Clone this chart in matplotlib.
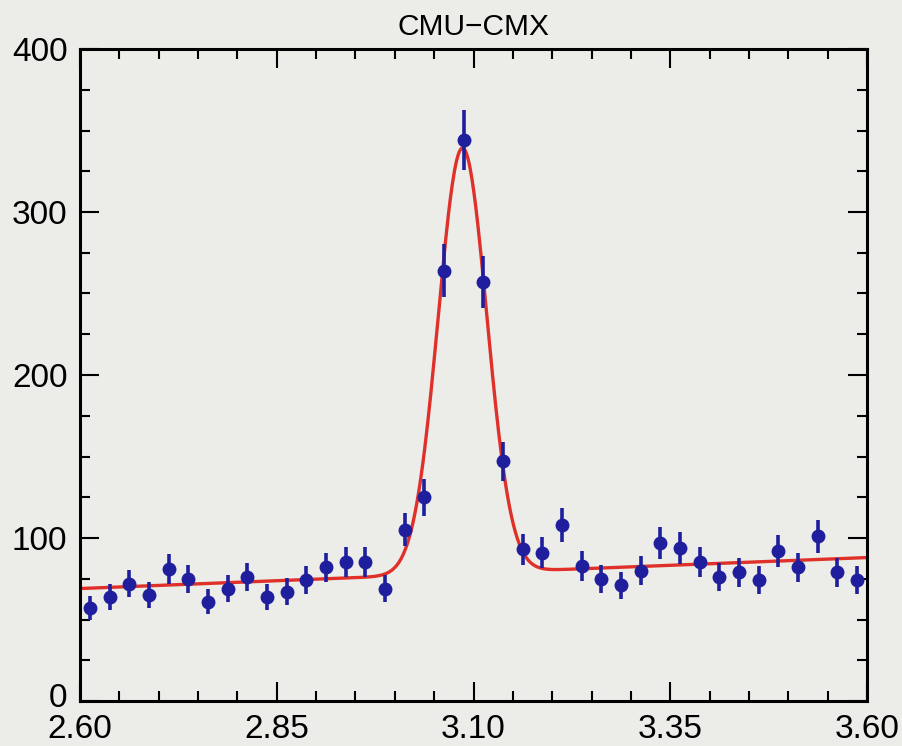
import numpy as np
import matplotlib
matplotlib.use("Agg")
import matplotlib.pyplot as plt
import matplotlib.transforms as mtransforms
from matplotlib.ticker import MultipleLocator, FixedLocator

# ------------------------------
# Data
# ------------------------------
bin_centers = [2.6125, 2.6375, 2.6625, 2.6875, 2.7125, 2.7375, 2.7625, 2.7875,
               2.8125, 2.8375, 2.8625, 2.8875, 2.9125, 2.9375, 2.9625, 2.9875,
               3.0125, 3.0375, 3.0625, 3.0875, 3.1125, 3.1375, 3.1625, 3.1875,
               3.2125, 3.2375, 3.2625, 3.2875, 3.3125, 3.3375, 3.3625, 3.3875,
               3.4125, 3.4375, 3.4625, 3.4875, 3.5125, 3.5375, 3.5625, 3.5875]
counts = [57, 64, 72, 65, 81, 75, 61, 69, 76, 64,
          67, 74, 82, 85, 85, 69, 105, 125, 264, 344,
          257, 147, 93, 91, 108, 83, 75, 71, 80, 97,
          94, 85, 76, 79, 74, 92, 82, 101, 79, 74]
errors = [7.5, 8.0, 8.5, 8.1, 9.0, 8.7, 7.8, 8.3, 8.7, 8.0,
          8.2, 8.6, 9.1, 9.2, 9.2, 8.3, 10.2, 11.2, 16.2, 18.5,
          16.0, 12.1, 9.6, 9.5, 10.4, 9.1, 8.7, 8.4, 8.9, 9.8,
          9.7, 9.2, 8.7, 8.9, 8.6, 9.6, 9.1, 10.0, 8.9, 8.6]

# fit: gaussian peak on a linear background
fit_amp = 261.0
fit_mean = 3.086
fit_sigma = 0.0308
bg_const = 69.0
bg_slope = 19.0

x_ticks = [2.60, 2.85, 3.10, 3.35, 3.60]
x_labels = ["2.60", "2.85", "3.10", "3.35", "3.60"]
y_ticks = [0, 100, 200, 300, 400]

BG = "#ecede9"
BLUE = "#1f1f9e"
RED = "#e0302a"

plt.rcParams["font.family"] = ["Liberation Sans", "DejaVu Sans"]

fig = plt.figure(figsize=(9.03, 7.46), dpi=100, facecolor=BG)
ax = fig.add_axes([80 / 903, 45 / 746, 787 / 903, 652 / 746], facecolor=BG)

xf = np.linspace(2.60, 3.60, 800)
yf = bg_const + bg_slope * (xf - 2.60) + fit_amp * np.exp(-0.5 * ((xf - fit_mean) / fit_sigma) ** 2)
ax.plot(xf, yf, color=RED, lw=2.4, zorder=2)

ax.errorbar(bin_centers, counts, yerr=errors, fmt="o", color=BLUE, ms=9,
            elinewidth=2.6, capsize=0, zorder=3)

ax.set_xlim(2.60, 3.60)
ax.set_ylim(0, 400)
ax.xaxis.set_major_locator(FixedLocator(x_ticks))
ax.set_xticklabels(x_labels)
ax.xaxis.set_minor_locator(MultipleLocator(0.05))
ax.yaxis.set_major_locator(FixedLocator(y_ticks))
ax.yaxis.set_minor_locator(MultipleLocator(25))

ax.tick_params(which="both", direction="in", top=True, right=True, width=1.5, colors="black")
ax.tick_params(which="major", length=14, labelsize=24)
ax.tick_params(which="minor", length=7)
ax.tick_params(axis="x", which="major", pad=9)
ax.tick_params(axis="y", which="major", pad=9)
for s in ax.spines.values():
    s.set_linewidth(2.2)

ax.set_title("CMU\u2212CMX", fontsize=21.5, pad=10)

# lift the "0" label a little so it clears "2.60"
fig.canvas.draw()
zero_lab = ax.yaxis.get_major_ticks()[0].label1
zero_lab.set_transform(zero_lab.get_transform() +
                       mtransforms.ScaledTranslation(0, 4 / 72, fig.dpi_scale_trans))

fig.savefig("out.png", dpi=100, facecolor=BG)
